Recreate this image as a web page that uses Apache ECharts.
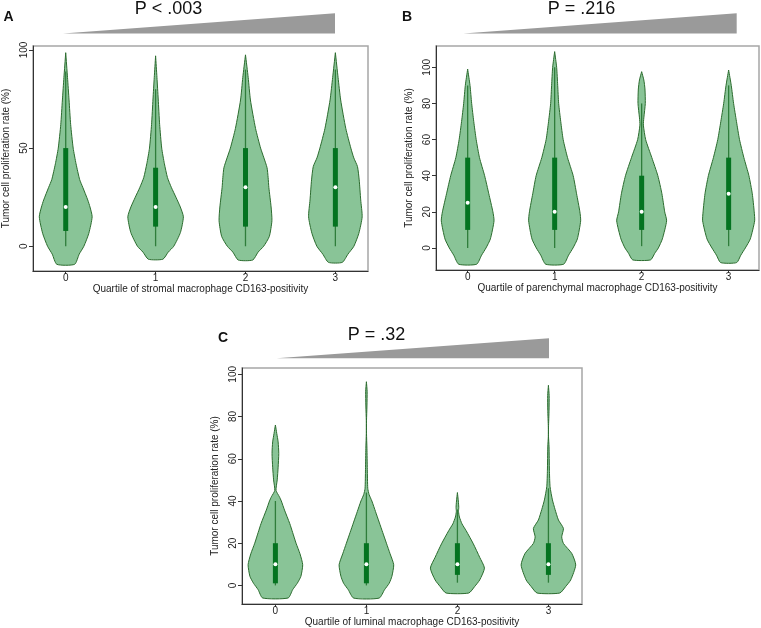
<!DOCTYPE html>
<html><head><meta charset="utf-8">
<script src="https://cdn.jsdelivr.net/npm/echarts@6/dist/echarts.min.js"></script>
<style>html,body{margin:0;padding:0;background:#fff}#c{width:761px;height:628px}</style>
</head><body><div id="c"></div>
<script>
// ---------- data ----------
const quartileLabels = ['0', '1', '2', '3'];
const quartileX = [0, 1, 2, 3];
const pValues = ['P < .003', 'P = .216', 'P = .32'];
const panelLetters = ['A', 'B', 'C'];
const xTitles = [
  'Quartile of stromal macrophage CD163-positivity',
  'Quartile of parenchymal macrophage CD163-positivity',
  'Quartile of luminal macrophage CD163-positivity'
];
const yTitle = 'Tumor cell proliferation rate (%)';
const yTicksA = [0, 50, 100];
const yTicksB = [0, 20, 40, 60, 80, 100];
const yTicksC = [0, 20, 40, 60, 80, 100];

// violin profiles: [value, half-width in quartile units]
const violinA0 = [[-9.2,0.099],[-4,0.15],[0,0.202],[6.6,0.257],[15,0.294],[20,0.27],[23.6,0.245],[30,0.19],[34,0.155],[42,0.115],[50,0.083],[62,0.055],[74.5,0.037],[86,0.02],[98.6,0]];
const violinA1 = [[-6.6,0.081],[-3,0.14],[0,0.202],[7,0.276],[15,0.309],[20,0.275],[25,0.226],[30,0.175],[35,0.132],[42,0.098],[50,0.068],[62,0.045],[75,0.029],[86,0.015],[97,0]];
const violinA2 = [[-7,0.081],[-3,0.14],[0,0.202],[5,0.265],[13,0.294],[20,0.285],[30,0.26],[35,0.252],[40,0.24],[45,0.205],[50,0.168],[60,0.112],[74.5,0.055],[86,0.03],[97.5,0]];
const violinA3 = [[-8.2,0.077],[-4,0.14],[0,0.206],[6.6,0.261],[15,0.298],[23.6,0.282],[33.8,0.265],[40.6,0.246],[45,0.205],[50,0.172],[60,0.116],[74.5,0.059],[86,0.03],[98.6,0]];
const violinB0 = [[-9,0.103],[-4,0.16],[0,0.211],[5,0.261],[15,0.303],[20,0.29],[30,0.243],[40,0.195],[50,0.136],[60,0.098],[70,0.07],[80,0.046],[90,0.027],[99,0]];
const violinB1 = [[-9,0.103],[-4,0.16],[0,0.211],[5,0.261],[15,0.299],[20,0.29],[30,0.252],[40,0.213],[50,0.148],[60,0.098],[70,0.07],[80,0.046],[90,0.035],[100,0.023],[108.7,0]];
const violinB2 = [[-6.6,0.103],[-3,0.15],[0,0.192],[5,0.238],[15,0.287],[20,0.265],[30,0.233],[40,0.186],[50,0.117],[60,0.046],[68,0.02],[72,0.025],[80,0.042],[88,0.038],[93,0.025],[97.6,0]];
const violinB3 = [[-8.1,0.092],[-4,0.14],[0,0.192],[5,0.249],[15,0.299],[20,0.294],[30,0.272],[40,0.233],[50,0.175],[60,0.125],[70,0.09],[80,0.057],[90,0.03],[98.5,0]];
const violinC0 = [[-5.95,0.14],[-2,0.19],[1,0.24],[4.3,0.28],[9.8,0.3],[15,0.27],[20,0.227],[25,0.19],[29.4,0.157],[35.7,0.1],[40,0.065],[42,0.044],[45,0.007],[50,0.02],[56,0.03],[62.5,0.037],[68,0.03],[72,0.015],[76,0]];
const violinC1 = [[-6,0.14],[-2,0.2],[1,0.25],[4.3,0.28],[9.8,0.3],[15,0.26],[20,0.22],[25,0.18],[30,0.14],[35,0.1],[40,0.06],[43,0.03],[46,0.015],[55,0.01],[65,0.006],[72,0.001],[78,0.001],[85,0.006],[92,0.008],[96.5,0]];
const violinC2 = [[-3.6,0.125],[-0.5,0.19],[2.6,0.245],[8.2,0.297],[13.3,0.245],[19.7,0.175],[26,0.095],[29.2,0.05],[32.4,0.022],[35,0.012],[37,0.015],[40,0.01],[44,0]];
const violinC3 = [[-3.6,0.125],[-0.5,0.19],[2.6,0.245],[9.7,0.3],[15.2,0.256],[19.9,0.165],[23,0.146],[27,0.165],[31,0.11],[36,0.073],[40.5,0.044],[46.8,0.018],[54.6,0.011],[65.6,0.007],[70.4,0.001],[75,0.001],[83,0.007],[90,0.008],[94.8,0]];

// box stats: [whisker low, q1, median, q3, whisker high]
const boxA = [[0,7.8,20,50,89],[0,10,20,40,80],[0,10,30,50,90],[0,10,30,50,90]];
const boxB = [[0,10,25,50,90],[0,10,20,50,100],[1,10,20,40,80],[1,10,30,50,90]];
const boxC = [[0,1,10,20,40],[0,1,10,20,44],[1.3,5,10,20,36],[1.3,5,10,20,46]];

const violinsA = [violinA0, violinA1, violinA2, violinA3];
const violinsB = [violinB0, violinB1, violinB2, violinB3];
const violinsC = [violinC0, violinC1, violinC2, violinC3];

// ---------- layout ----------
const panels = [
  {grid:{left:30, top:46, width:338, height:225}, x:[-0.364,3.363], y:[-12.6,102], yTicks:yTicksA, violins:violinsA, boxes:boxA,
   letter:[8.5,17.5], p:[168.5,9], tri:[[63,33.5],[335,13.3],[335,33.5]]},
  {grid:{left:436, top:46, width:323, height:224}, x:[-0.364,3.349], y:[-12.2,111.8], yTicks:yTicksB, violins:violinsB, boxes:boxB,
   letter:[407,17.5], p:[581.5,9], tri:[[463.3,33.5],[736.7,13.3],[736.7,33.5]]},
  {grid:{left:242, top:368, width:340, height:236}, x:[-0.367,3.369], y:[-8.8,103], yTicks:yTicksC, violins:violinsC, boxes:boxC,
   letter:[223,338], p:[376.5,335], tri:[[276.7,358.3],[549,338.3],[549,358.3]]}
];

const FONT = 'Liberation Sans, Arial, sans-serif';
const FILL = '#89c497', EDGE = '#2b6b2e', BOX = '#047320', WHISK = '#2f7d3b';

function makeRender(violins, boxes) {
  return function (params, api) {
    const i = params.dataIndex;
    const x = api.value(0);
    const prof = violins[i];
    const right = prof.map(p => api.coord([x + p[1], p[0]]));
    const left = prof.slice().reverse().map(p => api.coord([x - p[1], p[0]]));
    const pts = right.concat(left);
    const b = boxes[i];
    const lo = api.coord([x, b[0]]), q1 = api.coord([x, b[1]]), md = api.coord([x, b[2]]),
          q3 = api.coord([x, b[3]]), hi = api.coord([x, b[4]]);
    const bw = 5;
    return {
      type: 'group',
      children: [
        {type:'polygon', shape:{points:pts, smooth:0.2}, style:{fill:FILL, stroke:EDGE, lineWidth:1}},
        {type:'line', shape:{x1:lo[0], y1:lo[1], x2:hi[0], y2:hi[1]}, style:{stroke:WHISK, lineWidth:1.3}},
        {type:'rect', shape:{x:q3[0]-bw/2, y:q3[1], width:bw, height:q1[1]-q3[1]}, style:{fill:BOX}},
        {type:'circle', shape:{cx:md[0], cy:md[1], r:2}, style:{fill:'#ffffff'}}
      ]
    };
  };
}

const option = {
  animation: false,
  grid: panels.map(p => Object.assign({show:true, borderColor:'#a6a6a6', borderWidth:1.5, backgroundColor:'transparent'}, p.grid)),
  xAxis: panels.map((p, k) => ({
    type:'value', gridIndex:k, min:p.x[0], max:p.x[1],
    axisLine:{show:true, onZero:false, lineStyle:{color:'#333', width:1}},
    axisTick:{show:true, length:3, customValues:quartileX, lineStyle:{color:'#333'}},
    axisLabel:{customValues:quartileX, formatter:v => quartileLabels[Math.round(v)], color:'#222', fontSize:10, fontFamily:FONT, margin:2},
    splitLine:{show:false},
    name:xTitles[k], nameLocation:'middle', nameGap:11,
    nameTextStyle:{color:'#222', fontSize:10, fontFamily:FONT}
  })),
  yAxis: panels.map((p, k) => ({
    type:'value', gridIndex:k, min:p.y[0], max:p.y[1],
    axisLine:{show:true, onZero:false, lineStyle:{color:'#333', width:1}},
    axisTick:{show:true, length:4, customValues:p.yTicks, lineStyle:{color:'#333'}},
    axisLabel:{customValues:p.yTicks, rotate:90, color:'#222', fontSize:10, fontFamily:FONT, margin:4},
    splitLine:{show:false},
    name:yTitle, nameLocation:'middle', nameGap:22,
    nameTextStyle:{color:'#222', fontSize:10, fontFamily:FONT}
  })),
  series: panels.map((p, k) => ({
    type:'custom', xAxisIndex:k, yAxisIndex:k,
    renderItem: makeRender(p.violins, p.boxes),
    data: quartileX.map(v => [v, 0]),
    clip:false, silent:true
  })),
  graphic: [].concat(...panels.map((p, k) => ([
    {type:'polygon', shape:{points:p.tri}, style:{fill:'#9a9a9a'}},
    {type:'text', x:p.p[0], y:p.p[1], style:{text:pValues[k], fill:'#111', font:'18px ' + FONT, align:'center', verticalAlign:'middle'}},
    {type:'text', x:p.letter[0], y:p.letter[1], style:{text:panelLetters[k], fill:'#111', font:'bold 14px ' + FONT, align:'center', verticalAlign:'middle'}}
  ])))
};

const chart = echarts.init(document.getElementById('c'), null, {renderer:'canvas'});
chart.setOption(option);
</script>
</body></html>
